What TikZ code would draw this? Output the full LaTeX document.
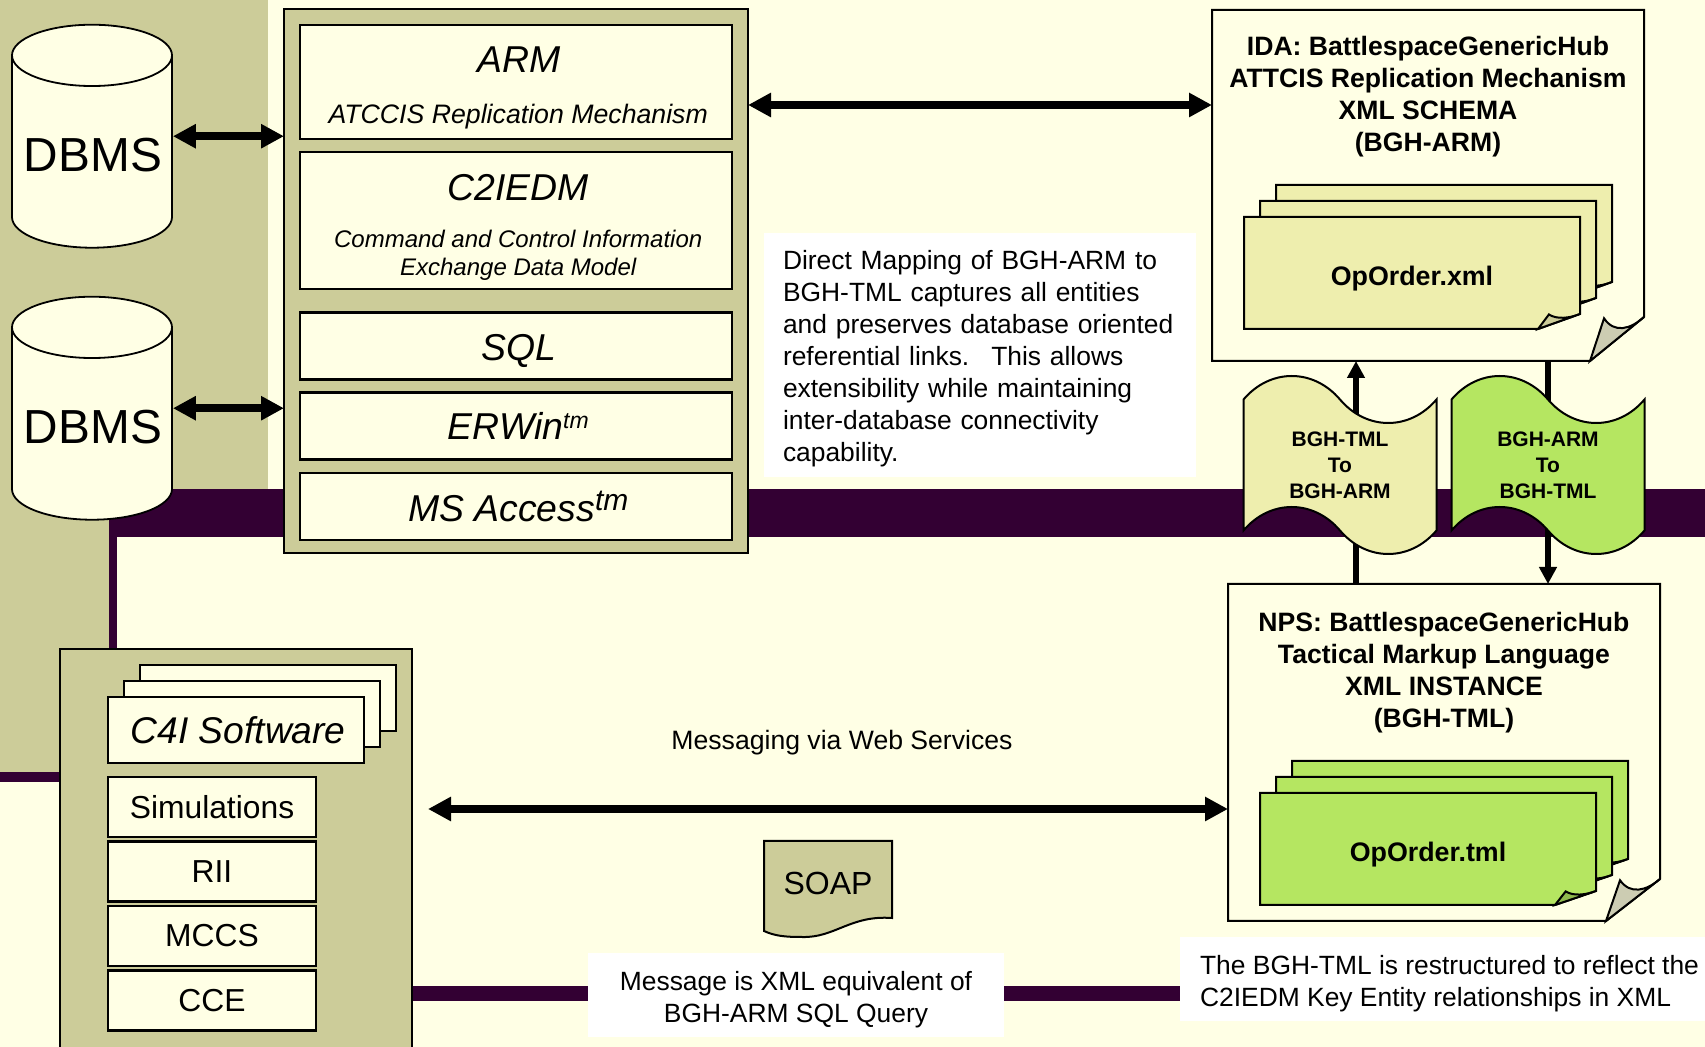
\documentclass[tikz,border=0pt]{standalone}
\usepackage{fontspec}
\setmainfont{Liberation Sans}
\usepackage{xcolor}
\usetikzlibrary{arrows.meta, positioning, shapes.geometric, shapes.symbols}

\definecolor{paper}{HTML}{FFFFE5}
\definecolor{khaki}{HTML}{CCCC99}
\definecolor{plum}{HTML}{330033}
\definecolor{pale}{HTML}{EEEEAE}
\definecolor{lime}{HTML}{B5E661}
\definecolor{foldgrey}{HTML}{CCCCB2}
\definecolor{foldlime}{HTML}{8FB84E}

% sheet with a turned-up corner: left, top, right, bottom, cut x, cut y, fill, fold fill
\newcommand{\foldsheet}[8]{
    \draw[sheetline, fill=#7] (#1,#2) -- (#3,#2) -- (#3,#4-#6) -- (#3-#5,#4) -- (#1,#4) -- cycle;
    \draw[sheetline, fill=#8] (#3-#5,#4) -- (#3-0.74*#5,#4-0.97*#6)
        .. controls (#3-0.55*#5,#4-0.62*#6) and (#3-0.25*#5,#4-0.72*#6) .. (#3,#4-#6) -- cycle;
}
\newcommand{\tmmark}[2]{\raisebox{#2}{\fontsize{#1}{#1}\selectfont tm}}
\newcommand{\nudge}{\hspace*{2.2pt}}

\begin{document}
\begin{tikzpicture}[
    x=0.5pt, y=-0.5pt,
    sheetline/.style={draw=black, line width=1pt, line join=miter},
    outerbox/.style={rectangle, draw, line width=1.2pt, fill=khaki, inner sep=0pt, outer sep=0pt},
    layerbox/.style={rectangle, draw, line width=1.2pt, fill=paper, minimum width=216pt, align=center, inner sep=0pt},
    softbox/.style={rectangle, draw, line width=1.2pt, fill=paper, minimum width=128pt, minimum height=33pt, inner sep=0pt},
    toolbox/.style={rectangle, draw, line width=1.2pt, fill=paper, minimum width=104pt, minimum height=30pt, inner sep=0pt, font=\fontsize{15.9}{18}\selectfont},
    dbms/.style={cylinder, shape border rotate=90, aspect=0.4375, draw, line width=0.9pt, fill=paper, minimum width=80pt, minimum height=111.5pt, inner sep=0pt, font=\fontsize{23.9}{26}\selectfont},
    wavedoc/.style={tape, tape bend top=out and in, tape bend bottom=out and in, tape bend height=23.5pt, draw, line width=1pt, minimum width=96.5pt, minimum height=89pt, inner sep=0pt, align=center, font=\bfseries\fontsize{10.5}{13}\selectfont},
    sheetarea/.style={rectangle, inner sep=0pt, outer sep=0pt},
    headtext/.style={inner sep=0pt, align=center, font=\bfseries\fontsize{13.3}{16}\selectfont},
    sheettext/.style={inner sep=0pt, font=\bfseries\fontsize{13.4}{16}\selectfont},
    note/.style={rectangle, fill=white, inner sep=0pt, font=\fontsize{13.2}{16}\selectfont},
    plaintext/.style={inner sep=0pt, font=\fontsize{13.3}{16}\selectfont},
    bigarrow/.style={line width=4pt, {Triangle[length=11.5pt,width=11.5pt]}-{Triangle[length=11.5pt,width=11.5pt]}},
    uparrow/.style={line width=3pt, -{Triangle[length=8.5pt,width=8.5pt]}},
]
    % Page and bars
    \path[use as bounding box, clip] (0,0) rectangle (1705,1047);
    \fill[paper] (0,0) rectangle (1705,1047);
    \fill[khaki] (0,0) rectangle (268,772);
    \fill[plum] (109,489) rectangle (1705,537);
    \fill[paper] (117,537) rectangle (1705,660);
    \fill[plum] (109,537) rectangle (117,660);
    \fill[plum] (0,772) rectangle (60,782);
    \fill[plum] (412,986) rectangle (1705,1001);

    % Databases
    \node[dbms] (dbmsa) at (92,152) {\rule{0pt}{20.2pt}\hspace*{1pt}DBMS};
    \node[dbms] (dbmsb) at (92,424) {\rule{0pt}{20.2pt}\hspace*{1pt}DBMS};

    % Data model stack
    \node[outerbox, minimum width=232pt, minimum height=272pt] (modelbox) at (516,281) {};
    \node[layerbox, minimum height=57pt, font=\itshape\fontsize{13.35}{16}\selectfont] (arm) at (516,82)
        {{\fontsize{18.7}{16}\selectfont\rule{0pt}{18.4pt}\nudge\hspace*{1pt}ARM}\\[9.5pt]\nudge ATCCIS Replication Mechanism};
    \node[layerbox, below=5.4pt of arm, minimum height=68.5pt, font=\itshape\fontsize{12}{14}\selectfont] (c2iedm)
        {{\fontsize{18.7}{16}\selectfont\rule{0pt}{19.4pt}\nudge C2IEDM}\\[9.6pt]\nudge Command and Control Information\\\nudge Exchange Data Model};
    \node[layerbox, below=10.4pt of c2iedm, minimum height=33.5pt, font=\itshape\fontsize{18.7}{22}\selectfont] (sql) {\rule{0pt}{18.1pt}\nudge\hspace*{1pt}SQL};
    \node[layerbox, below=5.4pt of sql, minimum height=33.5pt, font=\itshape\fontsize{18.7}{22}\selectfont] (erwin)
        {\nudge ERWin\tmmark{11.5}{5.5pt}};
    \node[layerbox, below=5.4pt of erwin, minimum height=33.5pt, font=\itshape\fontsize{18.7}{22}\selectfont] (access)
        {\nudge MS Access\tmmark{15}{5.5pt}};

    % C4I side
    \node[outerbox, minimum width=176pt, minimum height=225.5pt] (c4ibox) at (236,874.5) {};
    \foreach \d/\n in {32/c,16/b}
        \node[softbox] (soft\n) at (236+\d,730-\d) {};
    \node[softbox, font=\itshape\fontsize{18.6}{22}\selectfont] (softa) at (236,730) {\nudge C4I Software};
    \node[toolbox, below=5.9pt of softa.south west, anchor=north west] (simulations) {Simulations};
    \node[toolbox, below=1pt of simulations] (rii) {RII};
    \node[toolbox, below=1pt of rii] (mccs) {MCCS};
    \node[toolbox, below=1pt of mccs] (cce) {CCE};

    % Notes
    \node[note, minimum width=216pt, minimum height=122pt, text width=197pt, align=left] (mapnote) at (980,355)
        {\rule{0pt}{13pt}Direct Mapping of BGH-ARM to\\BGH-TML captures all entities\\and preserves database oriented\\referential links.~ This allows\\extensibility while maintaining\\inter-database connectivity\\capability.};
    \node[note, minimum width=208pt, minimum height=42pt, align=center] (msgnote) at (796,995)
        {\rule{0pt}{14pt}Message is XML equivalent of\\BGH-ARM SQL Query};
    \node[note, minimum width=269.5pt, minimum height=42pt, align=left] (tmlnote) at (1449.5,979)
        {\rule{0pt}{14pt}The BGH-TML is restructured to reflect the\\C2IEDM Key Entity relationships in XML};
    \node[plaintext] (msgtext) at (842,743) {Messaging via Web Services};
    \draw[sheetline, fill=khaki] (764,841) -- (892,841) -- (892,918)
        .. controls (850,915) and (835,938) .. (802,937)
        .. controls (785,937) and (775,936) .. (764,931) -- cycle;
    \node[plaintext, font=\fontsize{16}{18}\selectfont] (soap) at (828,883) {SOAP};

    % Schema and instance sheets
    \foldsheet{1212}{10}{1644}{361}{54}{44}{paper}{foldgrey}
    \foldsheet{1228}{584}{1660}{921}{54}{42}{paper}{foldgrey}
    \node[sheetarea, minimum width=216pt, minimum height=175.5pt] (ida) at (1428,185.5) {};
    \node[sheetarea, minimum width=216pt, minimum height=168.5pt] (nps) at (1444,752.5) {};
    \node[headtext, below=12.7pt of ida.north] (idahead)
        {IDA: BattlespaceGenericHub\\ATTCIS Replication Mechanism\\XML SCHEMA\\(BGH-ARM)};
    \node[headtext, below=13.7pt of nps.north] (npshead)
        {NPS: BattlespaceGenericHub\\Tactical Markup Language\\XML INSTANCE\\(BGH-TML)};
    \foreach \d in {32,16,0}{
        \foldsheet{1244+\d}{217-\d}{1580+\d}{329-\d}{42}{15}{pale}{khaki}
        \foldsheet{1260+\d}{793-\d}{1596+\d}{905-\d}{41}{14}{lime}{foldlime}
    }
    \node[sheettext] (xmlorder) at (1412,279) {OpOrder.xml};
    \node[sheettext] (tmlorder) at (1428,855) {OpOrder.tml};

    % Connect everything
    \coordinate (replrow) at (0,105);
    \coordinate (msgrow) at (0,809);
    \coordinate (upline) at (1356,0);
    \coordinate (downline) at (1548,0);
    \draw[bigarrow] (dbmsa.east |- dbmsa.shape center) -- (modelbox.west |- dbmsa.shape center);
    \draw[bigarrow] (dbmsb.east |- dbmsb.shape center) -- (modelbox.west |- dbmsb.shape center);
    \draw[bigarrow] (modelbox.east |- replrow) -- (ida.west |- replrow);
    \draw[bigarrow] ([xshift=8pt]c4ibox.east |- msgrow) -- (nps.west |- msgrow);
    \draw[uparrow] (upline |- nps.north) -- (upline |- ida.south);
    \draw[uparrow] (downline |- ida.south) -- (downline |- nps.north);

    % Transforms
    \node[wavedoc, fill=pale] (tmltoarm) at (1340,465) {BGH-TML\\To\\BGH-ARM};
    \node[wavedoc, fill=lime] (armtotml) at (1548,465) {BGH-ARM\\To\\BGH-TML};
\end{tikzpicture}
\end{document}
